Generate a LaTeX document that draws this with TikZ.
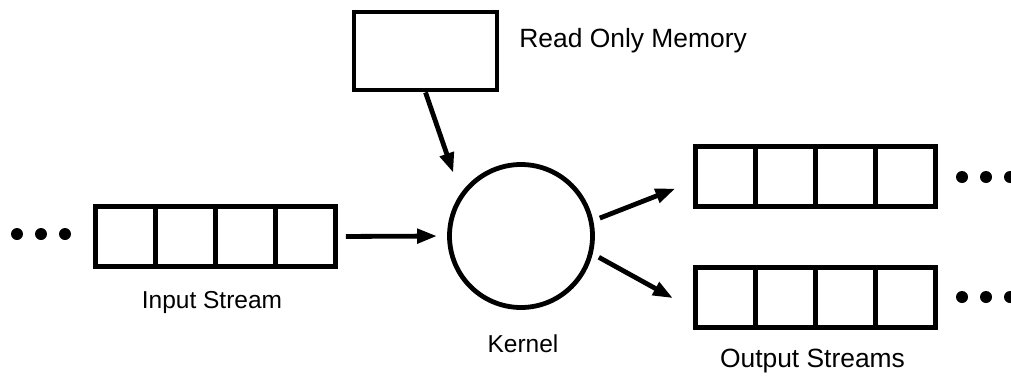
\documentclass[tikz,border=0pt]{standalone}
\usepackage{fontspec}
\setmainfont{Liberation Sans}
\usetikzlibrary{arrows.meta}
\begin{document}
\begin{tikzpicture}[x=1pt,y=-1pt,
  line width=4.8pt,
  cell/.style={draw,rectangle,minimum width=60pt,minimum height=60pt,inner sep=0pt},
  rombox/.style={draw,rectangle,minimum width=143pt,minimum height=78pt,inner sep=0pt},
  kern/.style={draw,circle,minimum size=143pt,inner sep=0pt},
  arr/.style={-{Triangle[length=20pt,width=14pt]}},
  lbl/.style={font=\fontsize{24.5}{28}\selectfont,inner sep=0pt},
  lblbig/.style={font=\fontsize{26.4}{30}\selectfont,inner sep=0pt},
  dot/.style={fill,circle,minimum size=12pt,inner sep=0pt,draw=none}]
\useasboundingbox (0,0) rectangle (1011,375);
% ROM
\node[rombox] (rom) at (425.5,51) {};
\node[lblbig,anchor=base west] (romlbl) at (517,47) {Read Only Memory};
% kernel
\node[kern] (kernel) at (521,236) {};
\node[lbl,anchor=base] (kernlbl) at (523,352) {Kernel};
% input stream
\node[cell] (in1) at (125.5,236.5) {};
\node[cell] (in2) at (185.5,236.5) {};
\node[cell] (in3) at (245.5,236.5) {};
\node[cell] (in4) at (305.5,236.5) {};
\node[lbl,anchor=base] (inlbl) at (212,308) {Input Stream};
\node[dot] (id1) at (17,234) {};
\node[dot] (id2) at (41,234) {};
\node[dot] (id3) at (65,234) {};
% output streams
\node[cell] (o1a) at (725.5,176.5) {};
\node[cell] (o1b) at (785.5,176.5) {};
\node[cell] (o1c) at (845.5,176.5) {};
\node[cell] (o1d) at (905.5,176.5) {};
\node[cell] (o2a) at (725.5,297.5) {};
\node[cell] (o2b) at (785.5,297.5) {};
\node[cell] (o2c) at (845.5,297.5) {};
\node[cell] (o2d) at (905.5,297.5) {};
\node[lblbig,anchor=base] (outlbl) at (812.5,367) {Output Streams};
\node[dot] (od1) at (962,177) {};
\node[dot] (od2) at (986,177) {};
\node[dot] (od3) at (1010,177) {};
\node[dot] (od4) at (962,297) {};
\node[dot] (od5) at (986,297) {};
\node[dot] (od6) at (1010,297) {};
% arrows
\draw[arr,shorten <=8pt,shorten >=10pt] (in4.east) -- (kernel.west);
\draw[arr,shorten >=22pt] (rom.south) -- (kernel.145);
\draw[arr,shorten <=7pt,shorten >=19pt] (kernel.12) -- (o1a.189);
\draw[arr,shorten <=7pt,shorten >=23pt] (kernel.-14) -- (o2a.200);
\end{tikzpicture}
\end{document}
